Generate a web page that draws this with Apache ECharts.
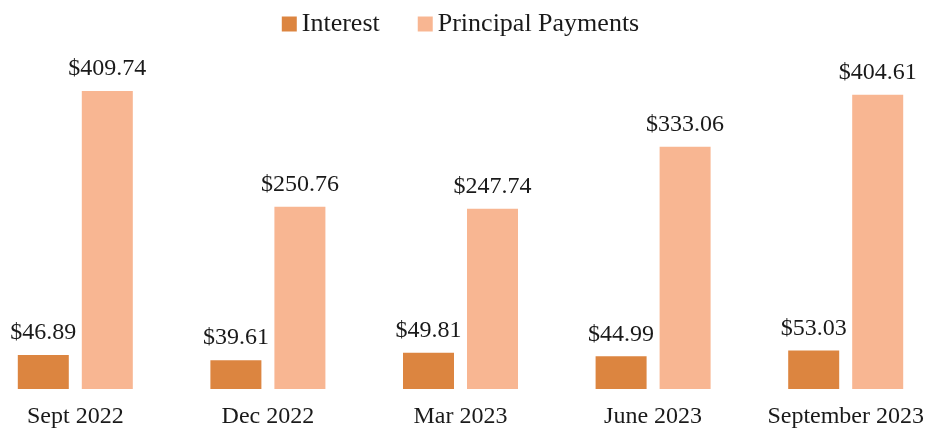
<!DOCTYPE html>
<html><head><meta charset="utf-8">
<script src="https://cdn.jsdelivr.net/npm/echarts@6/dist/echarts.min.js"></script>
<style>html,body{margin:0;padding:0;background:#fff;overflow:hidden;width:925px;height:432px}#c{width:963px;height:432px;margin-left:-21px}</style>
</head><body><div id="c"></div>
<script>
const categories = ['Sept 2022', 'Dec 2022', 'Mar 2023', 'June 2023', 'September 2023'];
const interest = [46.89, 39.61, 49.81, 44.99, 53.03];
const principal = [409.74, 250.76, 247.74, 333.06, 404.61];
const seriesNames = ['Interest', 'Principal Payments'];

const font = '"Liberation Serif", "DejaVu Serif", serif';
const chart = echarts.init(document.getElementById('c'));
const lbl = {
  show: true, position: 'top', distance: 10,
  color: '#1a1a1a', fontFamily: font, fontSize: 24,
  formatter: p => '$' + p.value.toFixed(2)
};
chart.setOption({
  animation: false,
  textStyle: { fontFamily: font },
  legend: {
    top: 6, left: 'center', itemWidth: 15, itemHeight: 15, itemGap: 38,
    icon: 'rect',
    textStyle: { fontFamily: font, fontSize: 26, color: '#1a1a1a' },
    data: seriesNames
  },
  grid: { left: 0, right: 0, top: 40, bottom: 43 },
  xAxis: {
    type: 'category', data: categories,
    axisLine: { show: false }, axisTick: { show: false },
    axisLabel: { interval: 0, color: '#1a1a1a', fontFamily: font, fontSize: 24, margin: 16 }
  },
  yAxis: { type: 'value', min: 0, max: 480, show: false, splitLine: { show: false } },
  series: [
    { name: seriesNames[0], type: 'bar', data: interest, barWidth: 51, barGap: '25.5%',
      itemStyle: { color: '#DC8540' }, label: lbl },
    { name: seriesNames[1], type: 'bar', data: principal, barWidth: 51,
      itemStyle: { color: '#F8B692' }, label: lbl }
  ]
});
</script></body></html>
